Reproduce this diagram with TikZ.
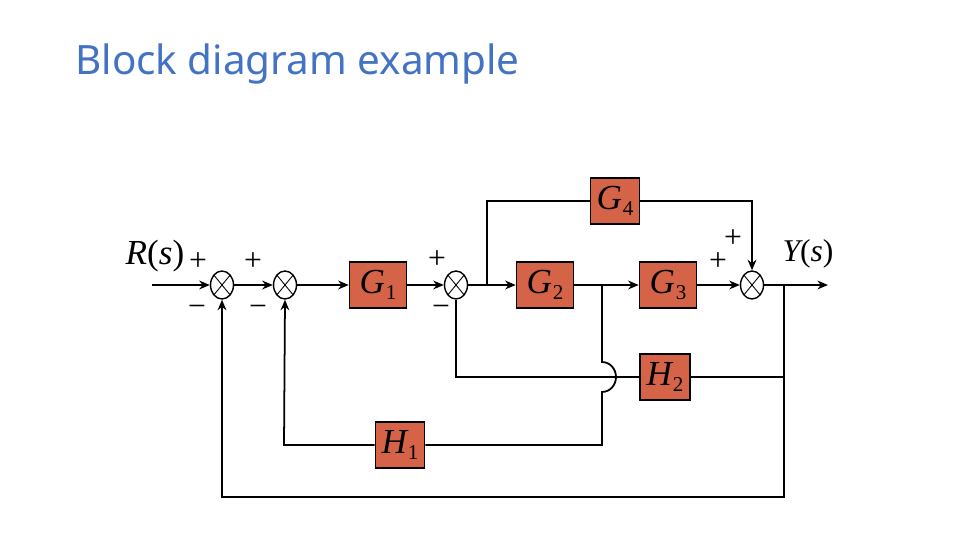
\documentclass[tikz,border=0pt]{standalone}
\usepackage{fontspec}
\setmainfont{Liberation Serif}
\newfontfamily\titlefont{Noto Sans}
\usetikzlibrary{positioning,arrows,arrows.meta,shapes.geometric,calc}
\definecolor{blkred}{RGB}{212,99,71}
\definecolor{titleblue}{RGB}{68,114,196}
\newcommand{\tf}[2]{{\fontsize{20}{20}\selectfont\itshape #1}\kern0.5pt\raisebox{-0.8ex}{\fontsize{12}{12}\selectfont #2}}
\newcommand{\sig}[2]{{\fontsize{#2}{#2}\selectfont\itshape #1}{\fontsize{#2}{#2}\selectfont(}{\fontsize{#2}{#2}\selectfont\itshape s}{\fontsize{#2}{#2}\selectfont)}}

\begin{document}
\begin{tikzpicture}[x=0.02cm,y=-0.02cm,
  blk/.style={rectangle,draw,line width=0.9pt,fill=blkred,inner sep=0pt,minimum height=0.92cm,minimum width=#1},
  blk/.default=1.14cm,
  sumj/.style={ellipse,draw,line width=0.8pt,fill=white,inner sep=0pt,minimum width=0.46cm,minimum height=0.56cm,
    path picture={\draw[line width=0.5pt] (path picture bounding box.north west) -- (path picture bounding box.south east)
      (path picture bounding box.north east) -- (path picture bounding box.south west);}},
  arr/.style={-{Stealth[length=6pt,width=5pt]},line width=1pt},
  ln/.style={line width=1pt},
  sgn/.style={font=\fontsize{18}{18}\selectfont,inner sep=0pt},
]
\useasboundingbox (0,0) rectangle (960,540);

% Title
\node[font=\titlefont\fontsize{23}{23}\selectfont,text=titleblue,anchor=base west,inner sep=0pt] (title) at (75,75) {Block diagram example};

% Summing junctions
\node[sumj] (s1) at (222,285) {};
\node[sumj] (s2) at (285,285) {};
\node[sumj] (s3) at (456,285) {};
\node[sumj] (s4) at (752,285) {};

% Forward blocks
\node[blk] (G1) at (378,285) {\tf{G}{1}};
\node[blk] (G2) at (545,285) {\tf{G}{2}};
\node[blk] (G3) at (668,285) {\tf{G}{3}};
\node[blk=0.98cm] (G4) at (615,201) {\tf{G}{4}};

% Feedback blocks
\node[blk=1.0cm] (H2) at (665,377) {\tf{H}{2}};
\node[blk=0.98cm] (H1) at (400,445) {\tf{H}{1}};

% Input, output and pick-off points
\coordinate (rin) at (152,285);
\coordinate (yout) at (828,285);
\coordinate (b1) at (487,285);
\coordinate (p1) at (602,285);
\coordinate (p2) at (784,285);

\node[inner sep=0pt] (rlab) at (155,256) {\sig{R}{20}};
\node[inner sep=0pt] (ylab) at (808,254) {\sig{Y}{18}};

% Signs
\node[sgn] (sp1) at (198,262) {+};
\node[sgn] (sm1) at (197,311) {−};
\node[sgn] (sp2) at (253,262) {+};
\node[sgn] (sm2) at (258,311) {−};
\node[sgn] (sp3) at (437,260) {+};
\node[sgn] (sm3) at (441,311) {−};
\node[sgn] (sp4) at (733,239) {+};
\node[sgn] (sp5) at (718,262) {+};

% Forward path
\draw[arr] (rin) -- (s1);
\draw[arr] (s1) -- (s2);
\draw[arr] (s2) -- (G1);
\draw[arr] (G1) -- (s3);
\draw[arr] (s3) -- (G2);
\draw[arr] (G2) -- (G3);
\draw[arr] (G3) -- (s4);
\draw[arr] (s4) -- (yout);

% Parallel branch
\draw[ln] (b1) |- (G4.west);
\draw[arr] (G4.east) -| (s4.north);

% Inner loop
\draw[ln] (p2) |- (H2.east);
\draw[ln] (H2.west) -- (456,377) -- (s3.south);

% Middle loop, jumping over the H2 line
\draw[ln] (p1) -- (602,362) to[out=0,in=90] (616,377) to[out=-90,in=0] (602,392) -- (602,445) -- (H1.east);
\draw[arr] (H1.west) -- (284,445) -- (s2.south);

% Outer loop
\draw[arr] (p2) -- (784,497) -| (s1.south);

\end{tikzpicture}
\end{document}
